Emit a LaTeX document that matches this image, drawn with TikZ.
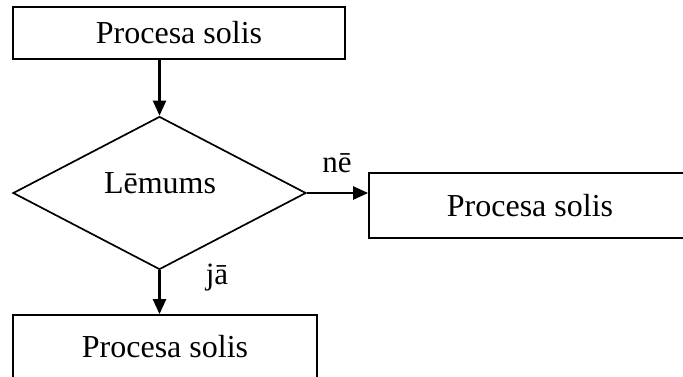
\documentclass[tikz,border=0pt]{standalone}
\usepackage{fontspec}
\setmainfont{Liberation Serif}
\usetikzlibrary{shapes.geometric,arrows.meta}
\tikzset{
  solis/.style={draw,line width=1.7pt,inner sep=0pt,font=\fontsize{32}{36}\selectfont},
  lemums/.style={draw,diamond,line width=1.7pt,inner sep=0pt,minimum width=293pt,minimum height=153pt},
  bulta/.style={line width=2.3pt,-{Triangle[length=15pt,width=13pt]}},
  zime/.style={font=\fontsize{31}{36}\selectfont}
}
\begin{document}
\begin{tikzpicture}[x=1pt,y=-1pt]
        \useasboundingbox (0,0) rectangle (683,376);
        \clip (0,0) rectangle (683,376);
        %% process steps
        \node[solis,minimum width=332pt,minimum height=52pt] (augsa) at (179,33) {Procesa solis};
        \node[solis,minimum width=322pt,minimum height=65pt] (pa labi) at (530,205.5) {Procesa solis};
        \node[solis,minimum width=304pt,minimum height=64pt] (apaksa) at (165,347) {Procesa solis};
        %% decision
        \node[lemums] (lem) at (159.5,193) {};
        \node[font=\fontsize{32}{36}\selectfont] (lemteksts) at (160,183) {Lēmums};
        %% connectors
        \draw[bulta] (lem.north |- augsa.south) -- (lem.north);
        \draw[bulta] (lem.east) -- (lem.east -| pa labi.west);
        \draw[bulta] (lem.south) -- (lem.south |- apaksa.north);
        %% answers
        \node[zime] (ne) at (337,163) {nē};
        \node[zime] (ja) at (217,278) {jā};
\end{tikzpicture}
\end{document}
